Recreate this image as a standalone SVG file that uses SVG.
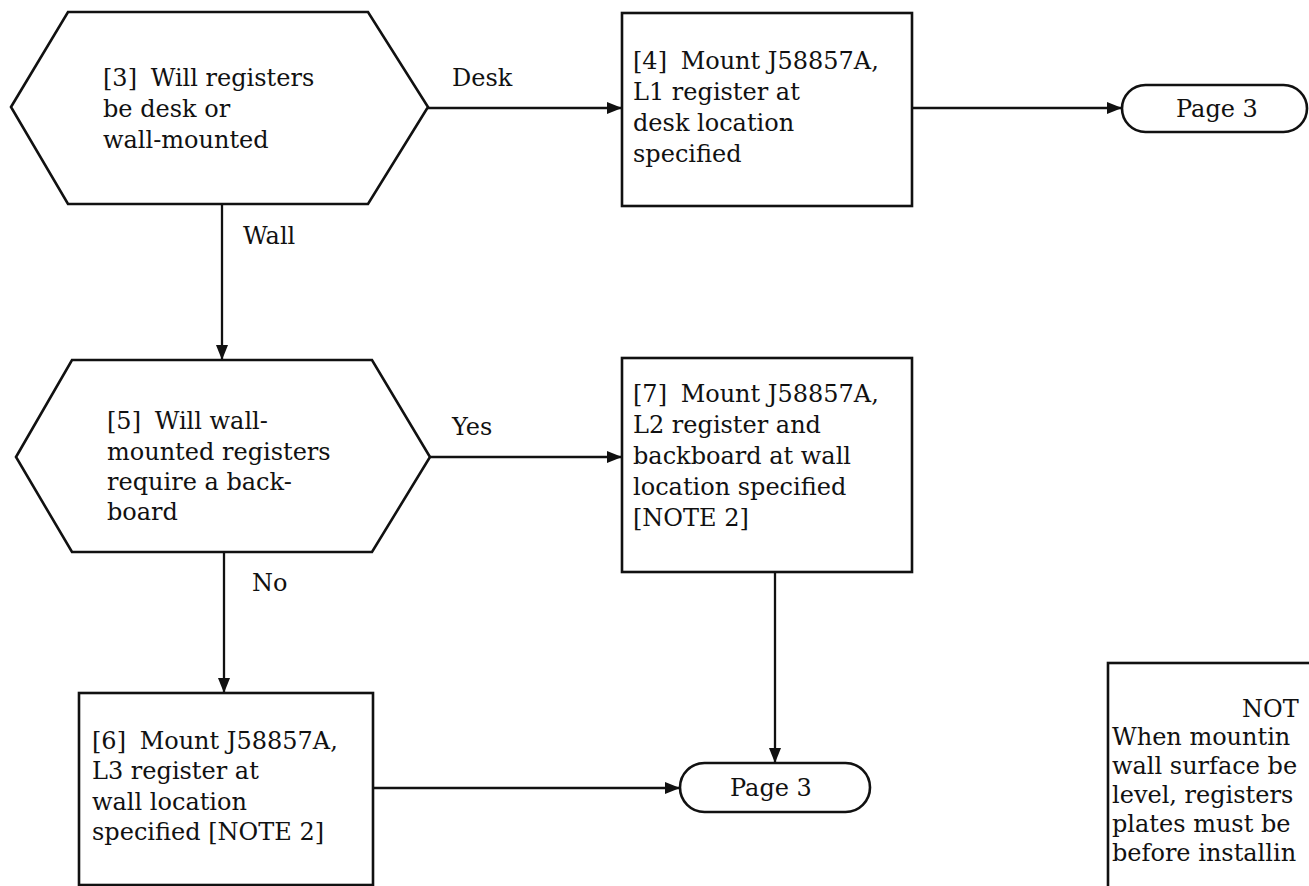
<svg xmlns="http://www.w3.org/2000/svg" width="1309" height="886" viewBox="0 0 1309 886">
  <defs>
    <marker id="arrow" markerUnits="userSpaceOnUse" markerWidth="16" markerHeight="12" refX="15" refY="6" orient="auto">
      <path d="M0,0 L15,6 L0,12 Z" fill="#111"/>
    </marker>
    <style>
      .shape { fill: #fff; stroke: #111; stroke-width: 2.6; }
      .edge { fill: none; stroke: #111; stroke-width: 2.3; marker-end: url(#arrow); }
      text { font-family: "DejaVu Serif", "Liberation Serif", serif; font-size: 24px; fill: #111; }
    </style>
  </defs>
  <rect width="1309" height="886" fill="#fff"/>

  <g id="connectors">
    <path class="edge" d="M428,108 H622"/>
    <path class="edge" d="M912,108 H1122"/>
    <path class="edge" d="M222,204 V360"/>
    <path class="edge" d="M430,457 H622"/>
    <path class="edge" d="M224,552 V693"/>
    <path class="edge" d="M373,788 H680"/>
    <path class="edge" d="M775,572 V763"/>
    <text x="452" y="86">Desk</text>
    <text x="243" y="244">Wall</text>
    <text x="452" y="435">Yes</text>
    <text x="252" y="591">No</text>
  </g>

  <g id="step3">
    <polygon class="shape" points="11,107 68,12 368,12 428,107 368,204 68,204"/>
    <text x="103" y="86">[3]<tspan dx="6"> Will registers</tspan></text>
    <text x="103" y="117">be desk or</text>
    <text x="103" y="148">wall-mounted</text>
  </g>

  <g id="step4">
    <rect class="shape" x="622" y="13" width="290" height="193"/>
    <text x="633" y="69">[4]<tspan dx="6"> Mount J58857A,</tspan></text>
    <text x="633" y="100">L1 register at</text>
    <text x="633" y="131">desk location</text>
    <text x="633" y="162">specified</text>
  </g>

  <g id="page3-top">
    <rect class="shape" x="1122" y="85" width="185" height="47" rx="23.5"/>
    <text x="1176" y="117">Page 3</text>
  </g>

  <g id="step5">
    <polygon class="shape" points="16,457 72,360 372,360 430,457 372,552 72,552"/>
    <text x="107" y="429">[5]<tspan dx="6"> Will wall-</tspan></text>
    <text x="107" y="460">mounted registers</text>
    <text x="107" y="490">require a back-</text>
    <text x="107" y="520">board</text>
  </g>

  <g id="step7">
    <rect class="shape" x="622" y="358" width="290" height="214"/>
    <text x="633" y="402">[7]<tspan dx="6"> Mount J58857A,</tspan></text>
    <text x="633" y="433">L2 register and</text>
    <text x="633" y="464">backboard at wall</text>
    <text x="633" y="495">location specified</text>
    <text x="633" y="526">[NOTE 2]</text>
  </g>

  <g id="step6">
    <rect class="shape" x="79" y="693" width="294" height="192"/>
    <text x="92" y="749">[6]<tspan dx="6"> Mount J58857A,</tspan></text>
    <text x="92" y="779">L3 register at</text>
    <text x="92" y="810">wall location</text>
    <text x="92" y="840">specified [NOTE 2]</text>
  </g>

  <g id="page3-bottom">
    <rect class="shape" x="680" y="763" width="190" height="49" rx="24.5"/>
    <text x="730" y="796">Page 3</text>
  </g>

  <g id="note2">
    <rect class="shape" x="1108" y="663" width="220" height="240"/>
    <text x="1242" y="717">NOT</text>
    <text x="1112" y="745">When mountin</text>
    <text x="1112" y="774">wall surface be</text>
    <text x="1112" y="803">level, registers</text>
    <text x="1112" y="832">plates must be</text>
    <text x="1112" y="861">before installin</text>
  </g>
</svg>
